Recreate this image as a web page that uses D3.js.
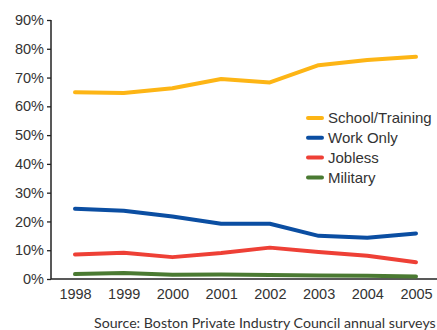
<!DOCTYPE html>
<html>
<head>
<meta charset="utf-8">
<script src="https://cdn.jsdelivr.net/npm/d3@7"></script>
<style>
  body { margin: 0; background: #fff; }
  text { fill: #333; }
</style>
</head>
<body>
<div id="chart"></div>
<script>
// data (percent of graduates)
const years = ['1998', '1999', '2000', '2001', '2002', '2003', '2004', '2005'];
const schoolTraining = [64.9, 64.6, 66.3, 69.5, 68.3, 74.3, 76.1, 77.2];
const workOnly = [24.4, 23.7, 21.7, 19.2, 19.2, 15.0, 14.3, 15.8];
const jobless = [8.5, 9.1, 7.6, 9.0, 10.9, 9.4, 8.1, 5.8];
const military = [1.7, 2.1, 1.5, 1.6, 1.4, 1.2, 1.1, 0.9];
const yTicks = [0, 10, 20, 30, 40, 50, 60, 70, 80, 90];
const seriesNames = ['School/Training', 'Work Only', 'Jobless', 'Military'];
const seriesColors = ['#fdb515', '#0b4ea2', '#ee4036', '#4a7a32'];

const series = [schoolTraining, workOnly, jobless, military].map((values, i) => ({
  name: seriesNames[i],
  color: seriesColors[i],
  values: values
}));

const w = 437, h = 330;
const plotLeft = 51, plotRight = 437, plotTop = 20, plotBottom = 279;

const svg = d3.select('#chart').append('svg')
  .attr('width', w)
  .attr('height', h);

const x = d3.scalePoint().domain(years).range([75, 416]);
const y = d3.scaleLinear().domain([0, 90]).range([plotBottom, plotTop]);

// y axis
const yAxis = svg.append('g')
  .attr('transform', 'translate(' + plotLeft + ',0)')
  .call(d3.axisLeft(y).tickValues(yTicks).tickSize(4).tickPadding(3)
    .tickFormat(d => d + '%'));
yAxis.select('.domain').attr('stroke', '#222').attr('stroke-width', 1.5).attr('d', 'M0,' + plotTop + 'V' + plotBottom);
yAxis.selectAll('.tick line').attr('stroke', '#222').attr('stroke-width', 1.3);
yAxis.selectAll('.tick text')
  .attr('font-family', 'Liberation Sans, Arial, sans-serif')
  .attr('font-size', 14.5)
  .attr('fill', '#333');

// x axis
const xAxis = svg.append('g')
  .attr('transform', 'translate(0,' + plotBottom + ')')
  .call(d3.axisBottom(x).tickSize(0).tickPadding(10));
xAxis.select('.domain').attr('stroke', '#222').attr('stroke-width', 1.5).attr('d', 'M' + plotLeft + ',0H' + plotRight);
xAxis.selectAll('.tick text')
  .attr('font-family', 'Liberation Sans, Arial, sans-serif')
  .attr('font-size', 14.5)
  .attr('fill', '#333');

// lines
const line = d3.line()
  .x((d, i) => x(years[i]))
  .y(d => y(d));

svg.selectAll('path.series')
  .data(series)
  .enter()
  .append('path')
  .attr('class', 'series')
  .attr('fill', 'none')
  .attr('stroke', d => d.color)
  .attr('stroke-width', 4)
  .attr('stroke-linecap', 'round')
  .attr('stroke-linejoin', 'round')
  .attr('d', d => line(d.values));

// legend
const legend = svg.append('g').attr('transform', 'translate(307,118)');
const rows = legend.selectAll('g')
  .data(series)
  .enter()
  .append('g')
  .attr('transform', (d, i) => 'translate(0,' + (i * 19.8) + ')');
rows.append('line')
  .attr('x1', 1).attr('x2', 15)
  .attr('stroke', d => d.color)
  .attr('stroke-width', 4)
  .attr('stroke-linecap', 'round');
rows.append('text')
  .attr('x', 21)
  .attr('dy', '0.36em')
  .attr('font-family', 'Liberation Sans, Arial, sans-serif')
  .attr('font-size', 15)
  .text(d => d.name);

// source note
svg.append('text')
  .attr('x', 94)
  .attr('y', 328)
  .attr('font-family', 'Lato, sans-serif')
  .attr('font-size', 14.2)
  .text('Source: Boston Private Industry Council annual surveys');
</script>
</body>
</html>
